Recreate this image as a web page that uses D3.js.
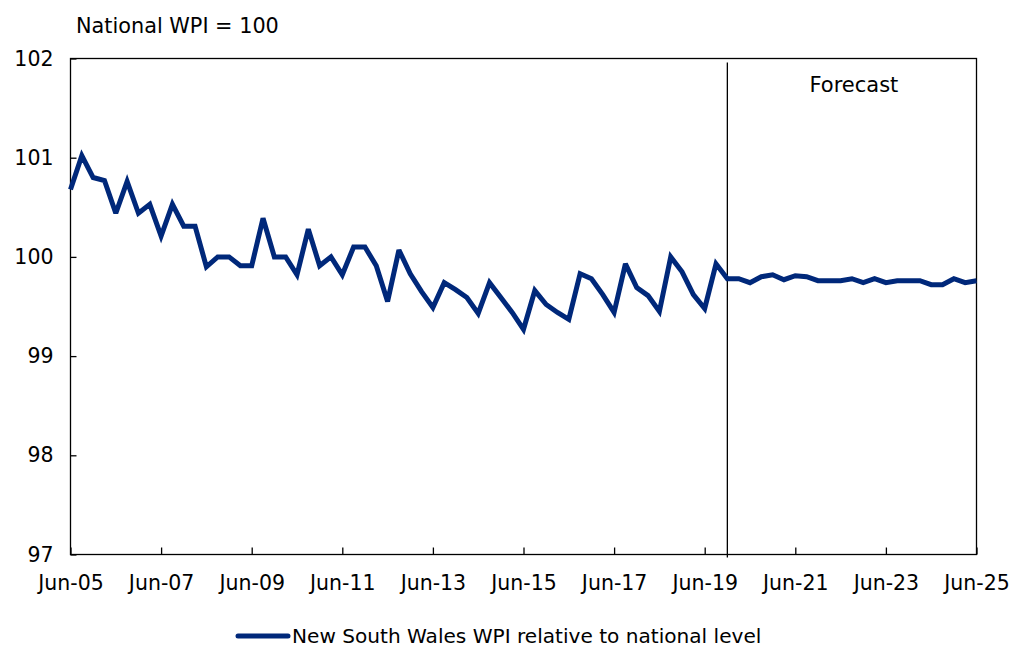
<!DOCTYPE html>
<html><head><meta charset="utf-8">
<script src="https://cdn.jsdelivr.net/npm/d3@7"></script>
<style>
html,body{margin:0;padding:0;background:#fff;}
svg{display:block;font-family:"DejaVu Sans",Verdana,sans-serif;}
</style></head>
<body><svg id="chart" width="1013" height="648"></svg>
<script>
// Quarterly, Jun-05 .. Jun-25
const nswValues = [
 100.68,101.02,100.80,100.77,100.44,100.76,100.44,100.53,100.21,100.53,
 100.31,100.31,99.90,100.00,100.00,99.91,99.91,100.39,100.00,100.00,
 99.82,100.28,99.91,100.00,99.82,100.10,100.10,99.91,99.55,100.07,
 99.83,99.65,99.49,99.74,99.67,99.59,99.43,99.74,99.59,99.44,
 99.27,99.66,99.52,99.44,99.37,99.83,99.78,99.62,99.44,99.93,
 99.69,99.61,99.45,100.00,99.85,99.62,99.48,99.93,99.78,99.78,
 99.74,99.80,99.82,99.77,99.81,99.80,99.76,99.76,99.76,99.78,
 99.74,99.78,99.74,99.76,99.76,99.76,99.72,99.72,99.78,99.74,
 99.76
];
const xTickLabels = ["Jun-05","Jun-07","Jun-09","Jun-11","Jun-13","Jun-15","Jun-17","Jun-19","Jun-21","Jun-23","Jun-25"];
const yTickValues = [97,98,99,100,101,102];
const forecastStartIndex = 58; // Dec-19
const seriesName = "New South Wales WPI relative to national level";
const unitLabel = "National WPI = 100";
const forecastLabel = "Forecast";

const svg = d3.select("#chart");
const L = 70.5, R = 976.5, T = 58.5, B = 554.5;
const color = "#00287a";
const fs = "20.5px";

const x = d3.scaleLinear().domain([0, nswValues.length - 1]).range([L, R]);
const y = d3.scaleLinear().domain([97, 102]).range([B, T]);

// frame
svg.append("rect").attr("x", L).attr("y", T).attr("width", R - L).attr("height", B - T)
  .attr("fill", "none").attr("stroke", "#000").attr("stroke-width", 1.3);

// y axis
const ya = svg.append("g").attr("transform", `translate(${L},0)`)
  .call(d3.axisLeft(y).tickValues(yTickValues).tickFormat(d3.format("d")).tickSizeInner(-6).tickSizeOuter(0).tickPadding(17));
ya.select(".domain").remove();
ya.selectAll(".tick line").attr("stroke", "#000").attr("stroke-width", 1.3);
ya.selectAll("text").attr("font-size", fs).attr("fill", "#000").attr("font-family", "DejaVu Sans");

// x axis
const xTickVals = xTickLabels.map((d, i) => i * 8);
const xa = svg.append("g").attr("transform", `translate(0,${B})`)
  .call(d3.axisBottom(x).tickValues(xTickVals).tickFormat((d, i) => xTickLabels[i]).tickSizeInner(-7).tickSizeOuter(0));
xa.select(".domain").remove();
xa.selectAll(".tick line").attr("stroke", "#000").attr("stroke-width", 1.3);
xa.selectAll("text").attr("font-size", fs).attr("fill", "#000").attr("font-family", "DejaVu Sans")
  .attr("y", 35).attr("dy", 0);

// forecast divider
svg.append("line").attr("x1", x(forecastStartIndex)).attr("x2", x(forecastStartIndex))
  .attr("y1", T + 4).attr("y2", B + 3).attr("stroke", "#000").attr("stroke-width", 1.3);
svg.append("text").attr("x", (x(forecastStartIndex) + R) / 2 + 2).attr("y", 92)
  .attr("text-anchor", "middle").attr("font-size", "21px").text(forecastLabel);

// unit label
svg.append("text").attr("x", 76).attr("y", 33).attr("font-size", "20.8px").text(unitLabel);

// series
const line = d3.line().x((d, i) => x(i)).y(d => y(d));
svg.append("path").datum(nswValues).attr("d", line)
  .attr("fill", "none").attr("stroke", color).attr("stroke-width", 5)
  .attr("stroke-linejoin", "miter").attr("stroke-miterlimit", 3);

// legend
svg.append("line").attr("x1", 238).attr("x2", 288).attr("y1", 636).attr("y2", 636)
  .attr("stroke", color).attr("stroke-width", 5).attr("stroke-linecap", "round");
svg.append("text").attr("x", 292).attr("y", 642.5).attr("font-size", "20.1px").text(seriesName);
</script></body></html>
